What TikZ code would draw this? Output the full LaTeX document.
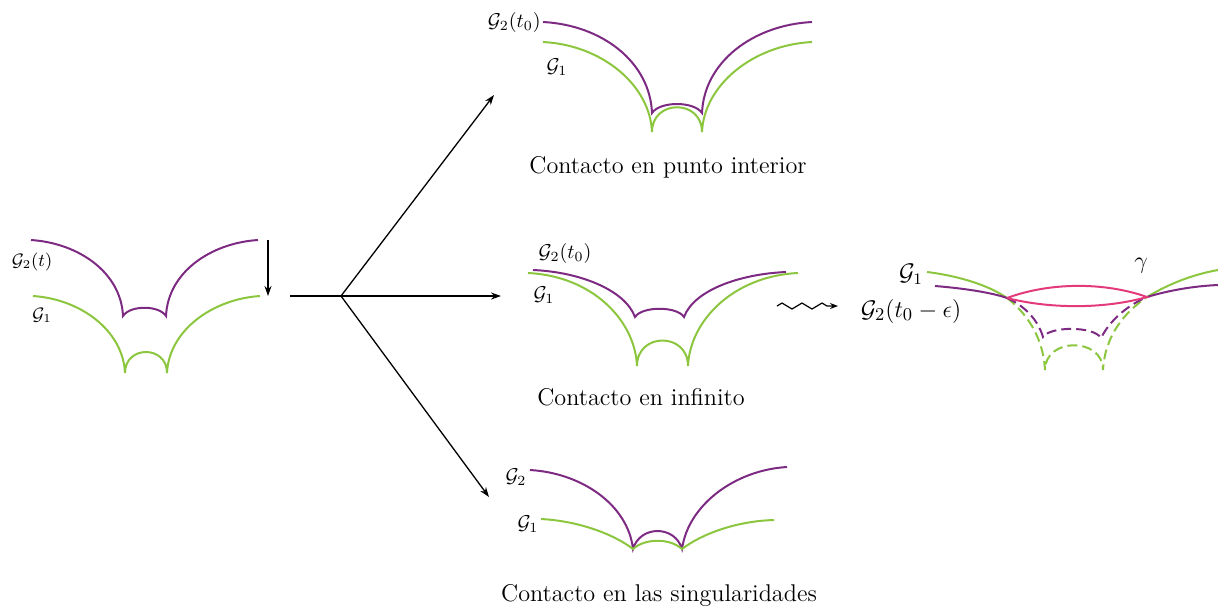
\documentclass[tikz,border=0pt]{standalone}
\usepackage{amsmath}
\usepackage{amssymb}
\usetikzlibrary{arrows.meta,decorations.pathmorphing}
\definecolor{mor}{HTML}{7D2A82}
\definecolor{yesil}{HTML}{8CC63F}
\definecolor{pembe}{HTML}{E33A7C}
\tikzset{
  egri/.style={line width=1pt},
  kesik/.style={line width=1pt,dash pattern=on 5pt off 2.5pt},
  ok/.style={line width=0.65pt,-{Stealth[length=5pt,width=3.5pt]}},
  baslik/.style={font=\fontsize{12.1}{14}\selectfont},
  etiket/.style={font=\fontsize{10}{12}\selectfont,inner sep=1pt}
}
\begin{document}
\begin{tikzpicture}[x=0.5pt,y=-0.5pt]
\useasboundingbox (0,0) rectangle (1218,607);
% baslangic: G2(t) asagi iniyor
\draw[mor,egri] (31,240) .. controls (78,243) and (121,272) .. (123,316)
  .. controls (130,305) and (159,305) .. (166,316)
  .. controls (168,272) and (211,243) .. (258,240);
\draw[yesil,egri] (33,296) .. controls (80,299) and (123,330) .. (125,373)
  .. controls (125,345) and (167,345) .. (167,373)
  .. controls (169,330) and (213,299) .. (260,296);
\node[etiket,font=\fontsize{9}{11}\selectfont] (lblA2) at (32,262) {$\mathcal{G}_2(t)$};
\node[etiket,font=\fontsize{9}{11}\selectfont] (lblA1) at (42,315) {$\mathcal{G}_1$};
\coordinate (inisUst) at (268,240);
\coordinate (inisAlt) at (268,296);
\draw[ok] (inisUst) -- (inisAlt);
% dallanma
\coordinate (kol) at (290,296);
\coordinate (cruce) at (341,296);
\coordinate (ucB) at (494,95);
\coordinate (ucC) at (501,296);
\coordinate (ucE) at (489,497);
\draw[line width=0.65pt] (kol) -- (cruce);
\draw[ok] (cruce) -- (ucB);
\draw[ok] (cruce) -- (ucC);
\draw[ok] (cruce) -- (ucE);
% ic noktada temas
\draw[mor,egri] (543,22) .. controls (602,25) and (650,62) .. (652,113)
  .. controls (660,101) and (694,101) .. (702,113)
  .. controls (704,62) and (753,25) .. (812,22);
\draw[yesil,egri] (543,42) .. controls (602,45) and (650,85) .. (652,132)
  .. controls (652,99) and (702,99) .. (702,132)
  .. controls (704,85) and (753,45) .. (812,42);
\node[etiket,left] (lblB2) at (543,22) {$\mathcal{G}_2(t_0)$};
\node[etiket] (lblB1) at (557,67) {$\mathcal{G}_1$};
\node[baslik] (txtB) at (668,167) {Contacto en punto interior};
% sonsuzda temas
\draw[mor,egri] (533,270) .. controls (580,272) and (625,290) .. (635,317)
  .. controls (642,306) and (677,306) .. (684,317)
  .. controls (694,290) and (740,274) .. (786,272);
\draw[yesil,egri] (528,273) .. controls (592,276) and (635,320) .. (637,366)
  .. controls (637,332) and (688,332) .. (688,366)
  .. controls (690,320) and (734,276) .. (798,273);
\node[etiket] (lblC2) at (565,253) {$\mathcal{G}_2(t_0)$};
\node[etiket] (lblC1) at (544,295) {$\mathcal{G}_1$};
\node[baslik] (txtC) at (641,397) {Contacto en infinito};
% dalgali ok
\coordinate (dalgaBas) at (777,306);
\coordinate (dalgaSon) at (838,306);
\draw[line width=0.6pt,-{Stealth[length=4pt,width=3pt]},
  decorate,decoration={zigzag,amplitude=1.5pt,segment length=10pt,post length=3pt}]
  (dalgaBas) -- (dalgaSon);
% G2(t0-eps)
\draw[yesil,egri] (927,272) .. controls (960,276) and (990,286) .. (1007,298);
\draw[yesil,kesik] (1007,298) .. controls (1025,312) and (1043,335) .. (1045,370)
  .. controls (1045,337) and (1103,337) .. (1103,370)
  .. controls (1105,335) and (1125,312) .. (1147,297);
\draw[yesil,egri] (1147,297) .. controls (1170,283) and (1195,274) .. (1218,270);
\draw[mor,egri] (935,286) .. controls (960,288) and (990,292) .. (1007,298);
\draw[mor,kesik] (1007,298) .. controls (1025,306) and (1038,320) .. (1043,337)
  .. controls (1050,326) and (1094,326) .. (1101,338)
  .. controls (1110,320) and (1128,305) .. (1147,297);
\draw[mor,egri] (1147,297) .. controls (1170,290) and (1195,286) .. (1218,285);
\draw[pembe,egri] (1007,298) .. controls (1050,282) and (1105,282) .. (1147,297)
  .. controls (1105,309) and (1050,309) .. (1007,298);
\node[etiket,font=\fontsize{12}{14}\selectfont] (lblD1) at (911,274) {$\mathcal{G}_1$};
\node[etiket,font=\fontsize{12.7}{15}\selectfont] (lblD2) at (911,311) {$\mathcal{G}_2(t_0-\epsilon)$};
\node[etiket,font=\fontsize{12}{14}\selectfont] (lblGamma) at (1141,266) {$\gamma$};
% tekilliklerde temas
\draw[mor,egri] (530,470) .. controls (582,473) and (628,505) .. (633,549)
  .. controls (640,525) and (675,525) .. (682,549)
  .. controls (688,505) and (735,470) .. (787,467);
\draw[yesil,egri] (541,519) .. controls (580,521) and (615,535) .. (633,549)
  .. controls (645,538) and (670,538) .. (682,549)
  .. controls (700,535) and (735,521) .. (774,520);
\node[etiket] (lblE2) at (516,477) {$\mathcal{G}_2$};
\node[etiket] (lblE1) at (528,524) {$\mathcal{G}_1$};
\node[baslik] (txtE) at (659,595) {Contacto en las singularidades};
\end{tikzpicture}
\end{document}
